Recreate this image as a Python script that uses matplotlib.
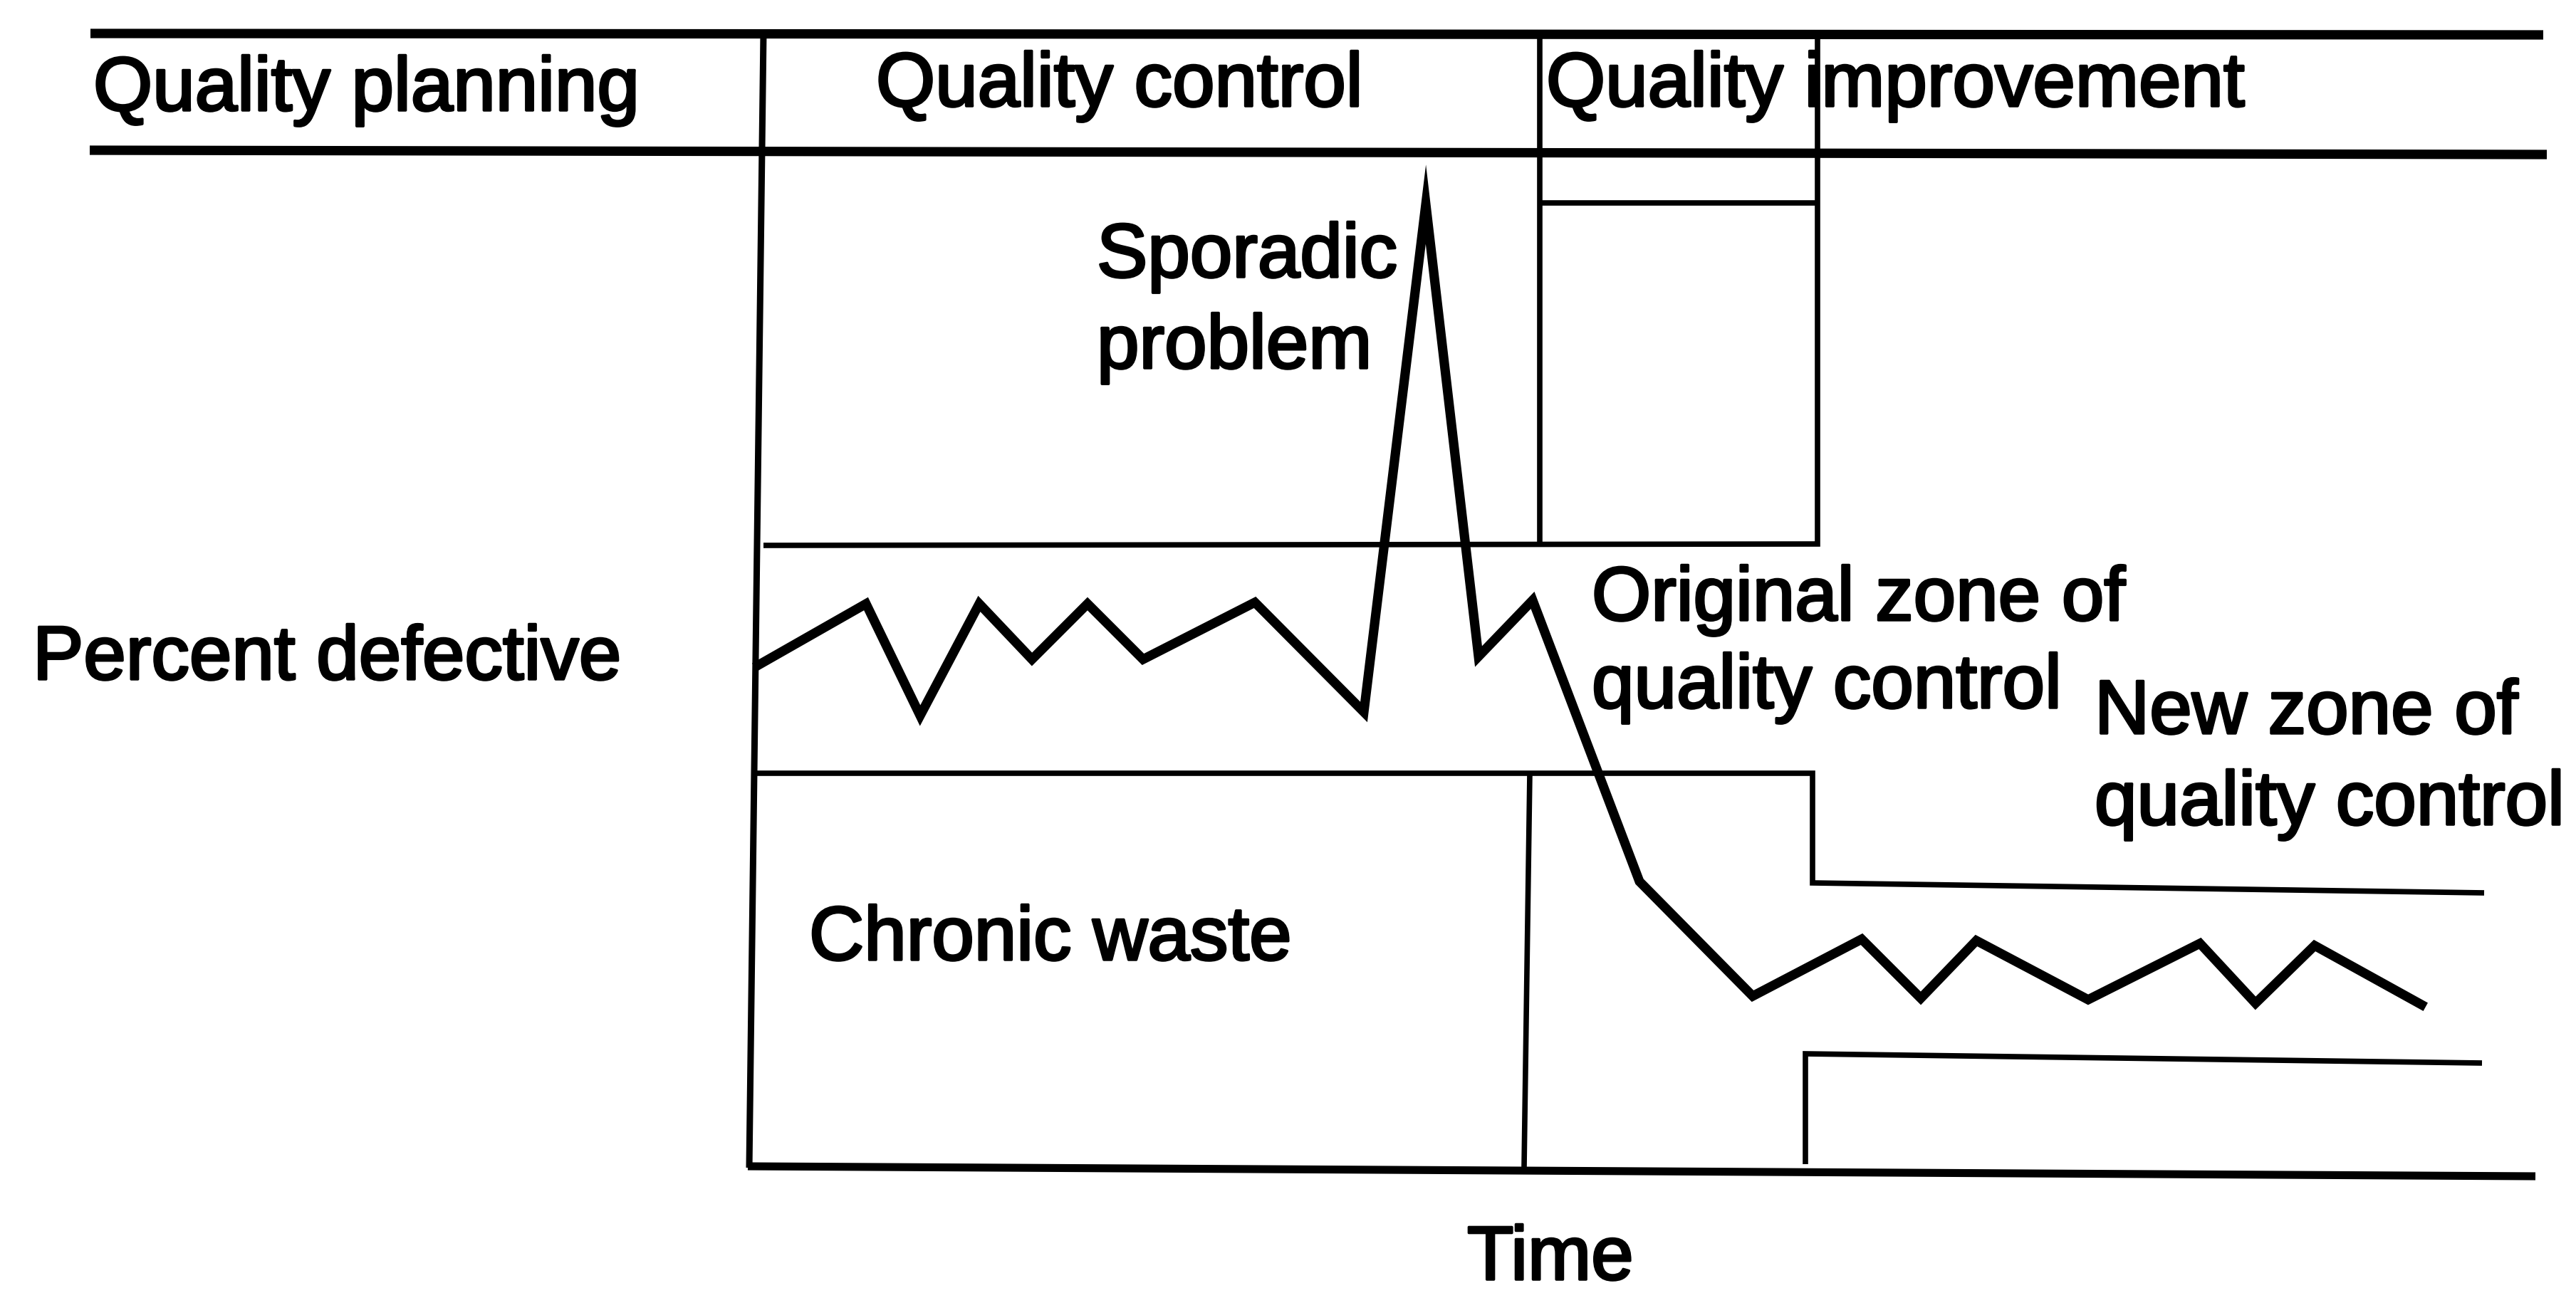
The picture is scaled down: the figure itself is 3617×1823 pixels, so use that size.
import matplotlib
matplotlib.use("Agg")
import matplotlib.pyplot as plt
import matplotlib.patheffects as pe

plt.rcParams['font.family'] = ['Liberation Sans', 'DejaVu Sans']

# diagram units: x = time, y = percent defective (drawn top-down like the page)
time_pts = [1065, 1216, 1292, 1375, 1449, 1527, 1605, 1762, 1915, 2002, 2076,
            2152, 2302, 2461, 2614, 2697, 2775, 2932, 3089, 3167, 3250, 3400]
defect_pts = [935, 849, 1006, 849, 927, 849, 927, 847, 1001, 288, 923,
              844, 1239, 1400, 1320, 1403, 1322, 1405, 1326, 1410, 1329, 1412]

# header band and frame
header_top = ([127, 3571], [48, 50])
header_bottom = ([126, 3576], [212, 218])
frame_left = ([1072, 1052], [48, 1641])
bottom_axis = ([1050, 3560], [1639, 1653])

# upper limit of original zone, and the sporadic box in quality improvement column
upper_limit = ([1072, 2552, 2552], [767, 765, 48])
qi_left = ([2162, 2162], [48, 767])
qi_inner = ([2162, 2552], [286, 286])

# lower limit of original zone stepping down to the new zone's upper limit
orig_lower = ([1062, 2545, 2545, 3488], [1087, 1087, 1241, 1255])
new_lower = ([2535, 2535, 3485], [1636, 1481, 1494])
qc_split = ([2148, 2140], [1087, 1640])

# labels: (text, x, baseline y)
labels = [
    ("Quality planning", 131, 156),
    ("Quality control", 1230, 150),
    ("Quality improvement", 2171, 150),
    ("Sporadic", 1540, 390),
    ("problem", 1540, 518),
    ("Percent defective", 46, 955),
    ("Original zone of", 2235, 872),
    ("quality control", 2235, 995),
    ("New zone of", 2941, 1031),
    ("quality control", 2941, 1159),
    ("Chronic waste", 1136, 1349),
    ("Time", 2060, 1798),
]

fig = plt.figure(figsize=(36.17, 18.24), dpi=100)
ax = fig.add_axes([0, 0, 1, 1])
ax.set_xlim(0, 3617)
ax.set_ylim(1824, 0)
ax.axis('off')

for xs, ys in [header_top, header_bottom]:
    ax.plot(xs, ys, color='black', lw=9.5, solid_capstyle='butt')
ax.plot(*bottom_axis, color='black', lw=8, solid_capstyle='butt')
ax.plot(*frame_left, color='black', lw=6.5, solid_capstyle='butt')

for xs, ys in [upper_limit, qi_left, qi_inner, orig_lower, new_lower, qc_split]:
    ax.plot(xs, ys, color='black', lw=5.5, solid_capstyle='butt', solid_joinstyle='miter')

ax.plot(time_pts, defect_pts, color='black', lw=9.5, solid_joinstyle='miter')

heavy = [pe.withStroke(linewidth=2.5, foreground='black')]
for txt, x, y in labels:
    ax.text(x, y, txt, fontsize=77, ha='left', va='baseline', color='black',
            path_effects=heavy)

fig.savefig("out.png", dpi=100, facecolor='white')
